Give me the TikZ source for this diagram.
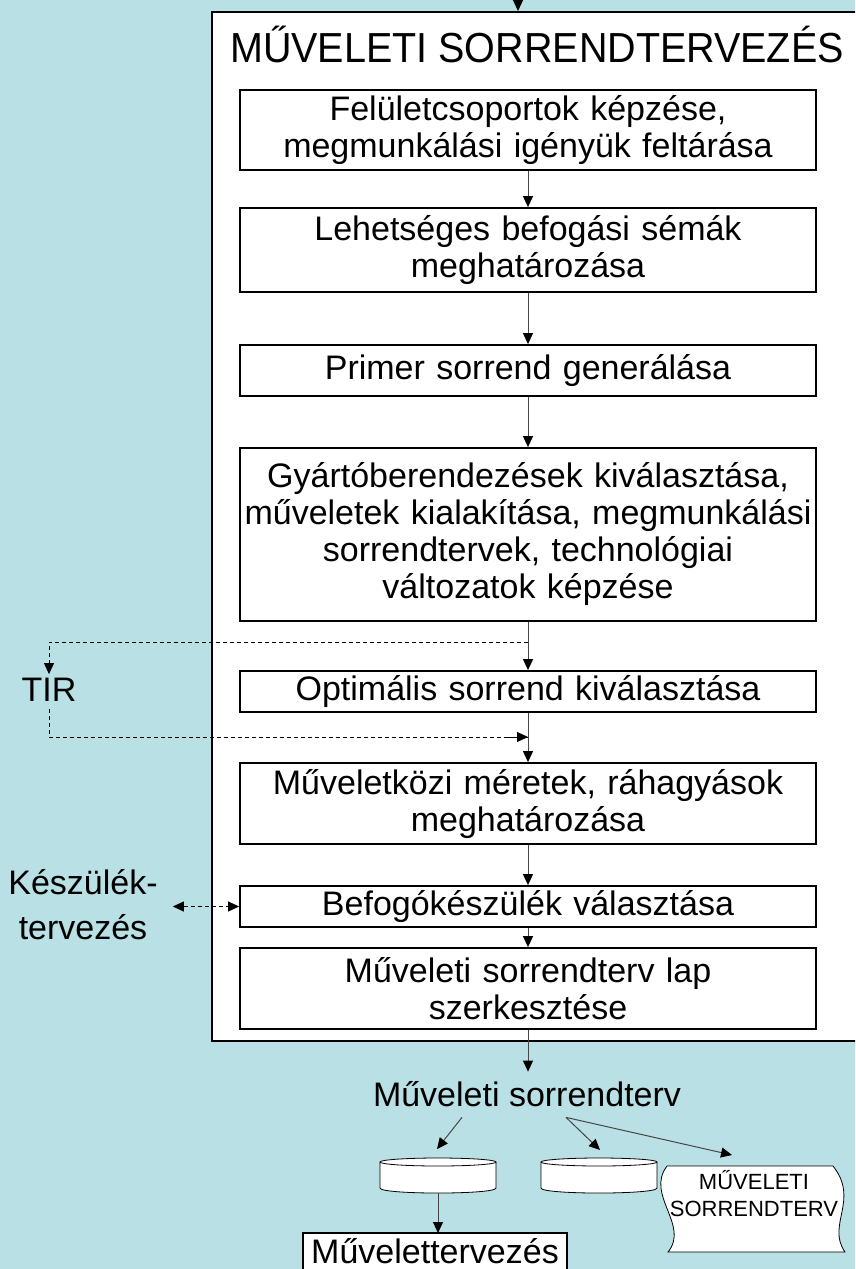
\documentclass[tikz,border=0pt]{standalone}
\usepackage{fontspec}
\setmainfont{Liberation Sans}
\usetikzlibrary{arrows.meta}
\definecolor{bgblue}{RGB}{185,224,228}
\definecolor{linegray}{RGB}{70,70,70}
\tikzset{
  stepbox/.style={draw, line width=1.8pt, fill=white, minimum width=576pt, inner sep=2pt,
    text width=570pt, align=center, font=\fontsize{34}{37}\selectfont},
  sidetext/.style={inner sep=0pt, font=\fontsize{34}{37}\selectfont},
  flow/.style={draw=linegray, line width=1pt, ->},
  feedback/.style={line width=1pt, dash pattern=on 4pt off 3pt, ->},
  medium/.style={line width=0.8pt, fill=white},
}
\begin{document}
\begin{tikzpicture}[x=1pt, y=-1pt, >={Triangle[length=11pt,width=10pt,color=black]}]
        \useasboundingbox (0,0) rectangle (855,1269);
        \clip (0,0) rectangle (855,1269);
        \fill[bgblue] (0,0) rectangle (855,1269);
        % Frame and title
        \node[draw, line width=2.2pt, fill=white, anchor=north west, minimum width=700pt,
          minimum height=1029pt] (frame) at (211,11) {};
        \coordinate (topin) at (518,-8);
        \draw[flow] (topin) -- (topin |- frame.north);
        \node[anchor=base, inner sep=0pt, font=\fontsize{42}{46}\selectfont] (title) at (537,62)
          {\scalebox{0.94}[1]{MŰVELETI SORRENDTERVEZÉS}};
        % Steps (top to bottom)
        \node[stepbox, minimum height=80pt] (felulet) at (528,130)
          {Felületcsoportok képzése,\\ megmunkálási igényük feltárása};
        \node[stepbox, minimum height=84pt] (befogas) at (528,250)
          {Lehetséges befogási sémák\\ meghatározása};
        \node[stepbox, minimum height=51pt] (primer) at (528,370.5) {Primer sorrend generálása};
        \node[stepbox, minimum height=173pt] (gyarto) at (528,534.5)
          {Gyártóberendezések kiválasztása,\\ műveletek kialakítása, megmunkálási\\
           sorrendtervek, technológiai\\ változatok képzése};
        \node[stepbox, minimum height=41pt] (optimalis) at (528,691.5) {Optimális sorrend kiválasztása};
        \node[stepbox, minimum height=81pt] (kozi) at (528,803.5)
          {Műveletközi méretek, ráhagyások\\ meghatározása};
        \node[stepbox, minimum height=41pt] (keszulek) at (528,906.5) {Befogókészülék választása};
        \node[stepbox, minimum height=81pt] (lap) at (528,988.5)
          {Műveleti sorrendterv lap\\ szerkesztése};
        % Edges
        \foreach \a/\b in {felulet/befogas, befogas/primer, primer/gyarto, gyarto/optimalis,
                           optimalis/kozi, kozi/keszulek, keszulek/lap}
          \draw[flow] (\a) -- (\b);
        % TIR loop
        \node[sidetext, inner ysep=4pt, inner xsep=0pt] (tir) at (49,690) {TIR};
        \coordinate (tirout) at (528,642);
        \coordinate (tirin) at (528,737);
        \draw[feedback] (tirout) -| (tir);
        \draw[feedback, -] ([yshift=-3pt]tir.south) |- (tirin);
        \draw[feedback] (tirin) ++(-20,0) -- (tirin);
        % Fixture design
        \node[sidetext, align=center, font=\fontsize{34}{45}\selectfont] (kesz) at (83,905)
          {Készülék-\\tervezés};
        \draw[feedback, <->] ([xshift=15pt]kesz.east |- keszulek.west) -- (keszulek);
        % Output
        \node[sidetext, inner sep=10pt] (terv) at (527,1094.5) {Műveleti sorrendterv};
        \draw[flow] (lap) -- (lap |- terv.north);
        % Storage
        \foreach \x/\n in {438/diskA, 599/diskB} {
          \filldraw[medium] (\x-58,1162) -- (\x-58,1188) .. controls (\x-58,1194.7) and (\x+58,1194.7)
            .. (\x+58,1188) -- (\x+58,1162);
          \filldraw[medium] (\x,1162) ellipse [x radius=58, y radius=4];
          \coordinate (\n) at (\x,1193);
        }
        \filldraw[medium] (667,1166) -- (833,1166) .. controls (860,1200) and (826,1225) .. (845,1252)
          -- (668,1252) .. controls (690,1225) and (645,1195) .. cycle;
        \node[inner sep=0pt, align=center, font=\fontsize{22}{27}\selectfont] (tape) at (754,1194)
          {MŰVELETI\\SORRENDTERV};
        \coordinate (diskAin) at (437,1149);
        \coordinate (diskBin) at (600,1150);
        \coordinate (tapein) at (732,1155);
        \draw[flow] ([xshift=-65pt]terv.south) -- (diskAin);
        \draw[flow] ([xshift=39pt]terv.south) -- (diskBin);
        \draw[flow] ([xshift=39pt]terv.south) -- (tapein);
        % Next stage (box runs off the bottom edge)
        \coordinate (mtop) at (435,1233);
        \filldraw[line width=1.2pt, fill=white] (303,1275) |- (567,1233) -- (567,1275);
        \node[sidetext, anchor=base] (mterv) at (435,1263) {Művelettervezés};
        \draw[flow] (diskA) -- (diskA |- mtop);
      \end{tikzpicture}
\end{document}
